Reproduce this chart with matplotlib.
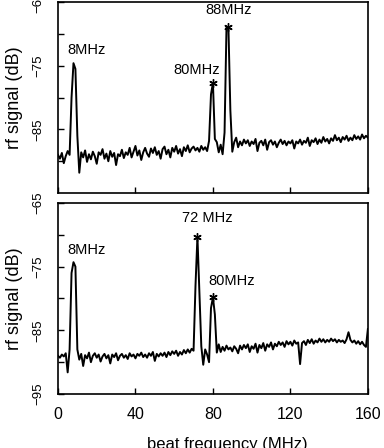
import numpy as np
import matplotlib.pyplot as plt

plt.rcParams['font.family'] = ['Liberation Sans', 'DejaVu Sans']

# beat frequency grid (MHz)
freq = np.arange(0, 161)

# top trace: 8, 80, 88 MHz beats
top_db = [
    -89.0, -89.6, -88.7, -90.3, -89.2, -88.4, -89.0, -80.0, -74.6, -75.5,
    -86.0, -91.8, -88.6, -89.4, -88.3, -90.1, -88.9, -89.7, -88.5, -89.2,
    -90.4, -88.6, -89.0, -88.1, -89.6, -88.8, -90.0, -88.4, -89.3, -88.7,
    -90.6, -88.9, -89.2, -88.2, -89.5, -88.6, -89.0, -87.9, -89.4, -88.5,
    -87.6, -89.1, -88.3, -89.8, -88.6, -87.9, -88.8, -89.3, -88.0, -88.7,
    -87.8, -89.0, -88.4, -89.6, -88.1, -87.7, -88.9, -88.2, -89.4, -87.9,
    -88.5, -87.6, -88.8, -88.1, -89.2, -87.8, -88.4, -87.5, -88.6, -88.0,
    -87.7, -88.3, -87.9, -88.5, -87.6, -88.2, -87.8, -88.4, -86.8, -79.5,
    -77.7, -86.5, -87.0, -88.6, -87.4, -88.9, -85.5, -69.0, -68.9, -82.0,
    -88.5, -87.0, -86.3, -87.8, -86.9, -87.5, -86.6, -87.2, -86.7, -87.6,
    -86.9, -87.3, -86.5, -88.4, -87.1, -86.8, -87.5, -86.6, -88.2, -87.0,
    -86.7, -87.4, -86.9, -87.8, -87.1, -86.6, -87.3, -86.8, -87.5, -86.9,
    -87.2, -86.7, -88.0, -86.9, -87.2, -86.6, -87.4, -86.8, -87.1, -86.3,
    -87.6, -86.7, -87.0, -86.4, -87.3, -86.6, -87.1, -86.2, -86.9, -86.5,
    -87.2, -86.4, -86.8, -85.9, -86.7, -86.3, -87.0, -86.2, -86.6, -86.0,
    -86.8, -86.3, -86.7, -85.9, -86.5, -86.1, -86.6, -85.8, -86.4, -86.0,
    -86.3,
]

# bottom trace: 8, 72, 80 MHz beats
bot_db = [
    -89.0, -89.3, -88.8, -89.1, -88.6, -91.6, -88.0, -76.0, -74.3, -75.0,
    -88.0, -89.6, -88.7, -90.6, -88.9, -89.4, -88.5, -90.0, -89.0, -88.6,
    -89.3, -88.8, -89.9, -89.1, -88.7, -89.4, -88.9, -90.2, -88.8, -89.2,
    -88.6, -89.7, -89.0, -88.7, -89.3, -88.9, -89.5, -88.6, -89.1, -88.8,
    -89.4, -88.7, -89.0, -88.5, -89.2, -88.8, -89.3, -88.6, -89.0, -88.4,
    -89.8, -88.7, -89.1, -88.6, -89.0, -88.5, -89.2, -88.4, -88.9, -88.3,
    -88.7, -88.2, -89.0, -88.4, -88.8, -88.1, -88.6, -88.0, -88.5, -87.9,
    -88.2, -78.0, -70.3, -79.0, -87.5, -90.4, -88.0, -88.8, -90.0, -81.5,
    -79.8, -82.5, -88.5, -87.2, -88.4, -87.6, -88.2, -87.4, -88.0, -87.7,
    -88.3, -87.5, -87.9, -88.6, -87.4, -88.0, -87.3, -87.8, -87.2, -88.4,
    -87.5, -87.9, -87.1, -88.5, -87.3, -87.8, -87.0, -88.2, -87.2, -87.6,
    -86.9, -88.0, -87.1, -87.5, -86.8, -87.3, -86.9, -87.6, -86.7, -87.2,
    -86.8, -87.4, -86.6, -87.1, -86.9, -90.3, -87.0, -86.7, -87.3, -86.5,
    -87.0, -86.4, -87.1, -86.6, -86.9, -86.3, -86.8, -86.4, -86.9, -86.5,
    -86.8, -86.3, -86.7, -86.4, -86.9, -86.5, -86.8, -86.6, -87.0, -86.4,
    -85.3, -86.5, -86.9, -86.6, -87.1, -86.7, -87.2, -86.8, -87.3, -87.6,
    -84.8,
]

# marked peaks and labels
top_marks = [80, 88]
bot_marks = [72, 80]
top_labels = [('8MHz', 14.5, -72.5), ('80MHz', 71.5, -75.7), ('88MHz', 88, -66.3)]
bot_labels = [('8MHz', 14.5, -72.4), ('72 MHz', 77, -67.4), ('80MHz', 89.6, -77.3)]

fig = plt.figure(figsize=(3.84, 4.48), dpi=100)
ax1 = fig.add_axes([0.151, 0.569, 0.807, 0.4265])
ax2 = fig.add_axes([0.151, 0.1205, 0.807, 0.4265])

panels = [(ax1, top_db, top_marks, top_labels, [-65, -75, -85]),
          (ax2, bot_db, bot_marks, bot_labels, [-65, -75, -85, -95])]

for ax, db, marks, labels, yt in panels:
    db = np.array(db)
    ax.plot(freq, db, color='black', lw=1.4)
    ax.plot(marks, db[marks], ls='none', marker=(6, 2, 0), ms=6,
            color='black', mew=1.0)
    for txt, x, y in labels:
        ax.text(x, y, txt, ha='center', va='center', fontsize=10.5)
    ax.set_xlim(0, 160)
    ax.set_ylim(-95, -65)
    ax.set_xticks([0, 40, 80, 120, 160])
    ax.set_yticks(yt)
    ax.set_yticks([-70, -80, -90], minor=True)
    ax.tick_params(which='both', direction='in', length=4, width=1)
    ax.tick_params(axis='x', labelsize=11.5, pad=9)
    ax.tick_params(axis='y', labelsize=9.5, pad=10)
    for lbl in ax.get_yticklabels():
        lbl.set_rotation(90)
        lbl.set_va('center')
    for s in ax.spines.values():
        s.set_linewidth(1.2)
    ax.set_ylabel('rf signal (dB)', fontsize=13)
    ax.yaxis.set_label_coords(-0.113, 0.5)

ax1.tick_params(labelbottom=False)
fig.text(227 / 384, 1 - 437 / 448, 'beat frequency (MHz)', ha='center',
         va='top', fontsize=12)

fig.savefig('out.png', dpi=100)
